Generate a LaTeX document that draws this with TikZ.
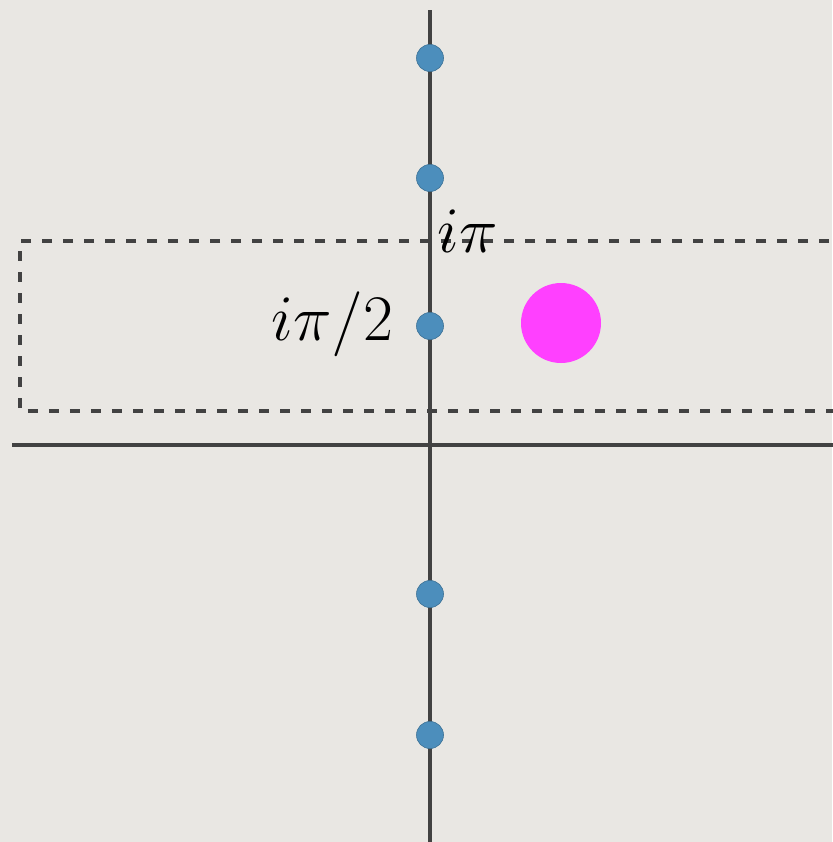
\documentclass[tikz,border=0pt]{standalone}
\usepackage{graphicx}
\newcommand{\biglbl}[1]{\scalebox{1.306}{\fontsize{24.88}{30}\selectfont$#1$}}
\begin{document}
\begin{tikzpicture}[x=0.5pt,y=-0.5pt,
  axis/.style={draw=axisgray,line width=2pt},
  dashbox/.style={draw=axisgray,line width=2pt,dash pattern=on 5pt off 5.5pt},
  bluedot/.style={circle,fill=dotblue,draw=dotblue!80!black,line width=0.3pt,minimum size=13.5pt,inner sep=0pt},
  pole/.style={circle,fill=polemag,minimum size=40pt,inner sep=0pt},
  lbl/.style={inner sep=0pt}]
\definecolor{axisgray}{RGB}{66,66,66}
\definecolor{dotblue}{RGB}{76,142,188}
\definecolor{polemag}{RGB}{255,64,255}
\definecolor{paper}{RGB}{233,231,227}
\fill[paper] (0,0) rectangle (832,842);
\useasboundingbox (0,0) rectangle (832,842);
% dashed strip
\draw[dashbox] (850,241) -- (20,241) -- (20,411) -- (850,411);
% axes
\coordinate (vtop) at (430,10);
\coordinate (vbot) at (430,845);
\coordinate (hl) at (12,445);
\coordinate (hr) at (845,445);
\draw[axis] (vtop) -- (vbot);
\draw[axis] (hl) -- (hr);
% poles on imaginary axis
\node[bluedot] (d1) at (430,58) {};
\node[bluedot] (d2) at (430,178) {};
\node[bluedot] (d3) at (430,326) {};
\node[bluedot] (d4) at (430,594) {};
\node[bluedot] (d5) at (430,735) {};
% magenta point
\node[pole] (m) at (561,323) {};
% labels
\node[lbl,anchor=base west] (lpi) at (437,252) {\biglbl{i\pi}};
\node[lbl,anchor=base east] (lpi2) at (394,340) {\biglbl{i\pi/2}};
\end{tikzpicture}
\end{document}
